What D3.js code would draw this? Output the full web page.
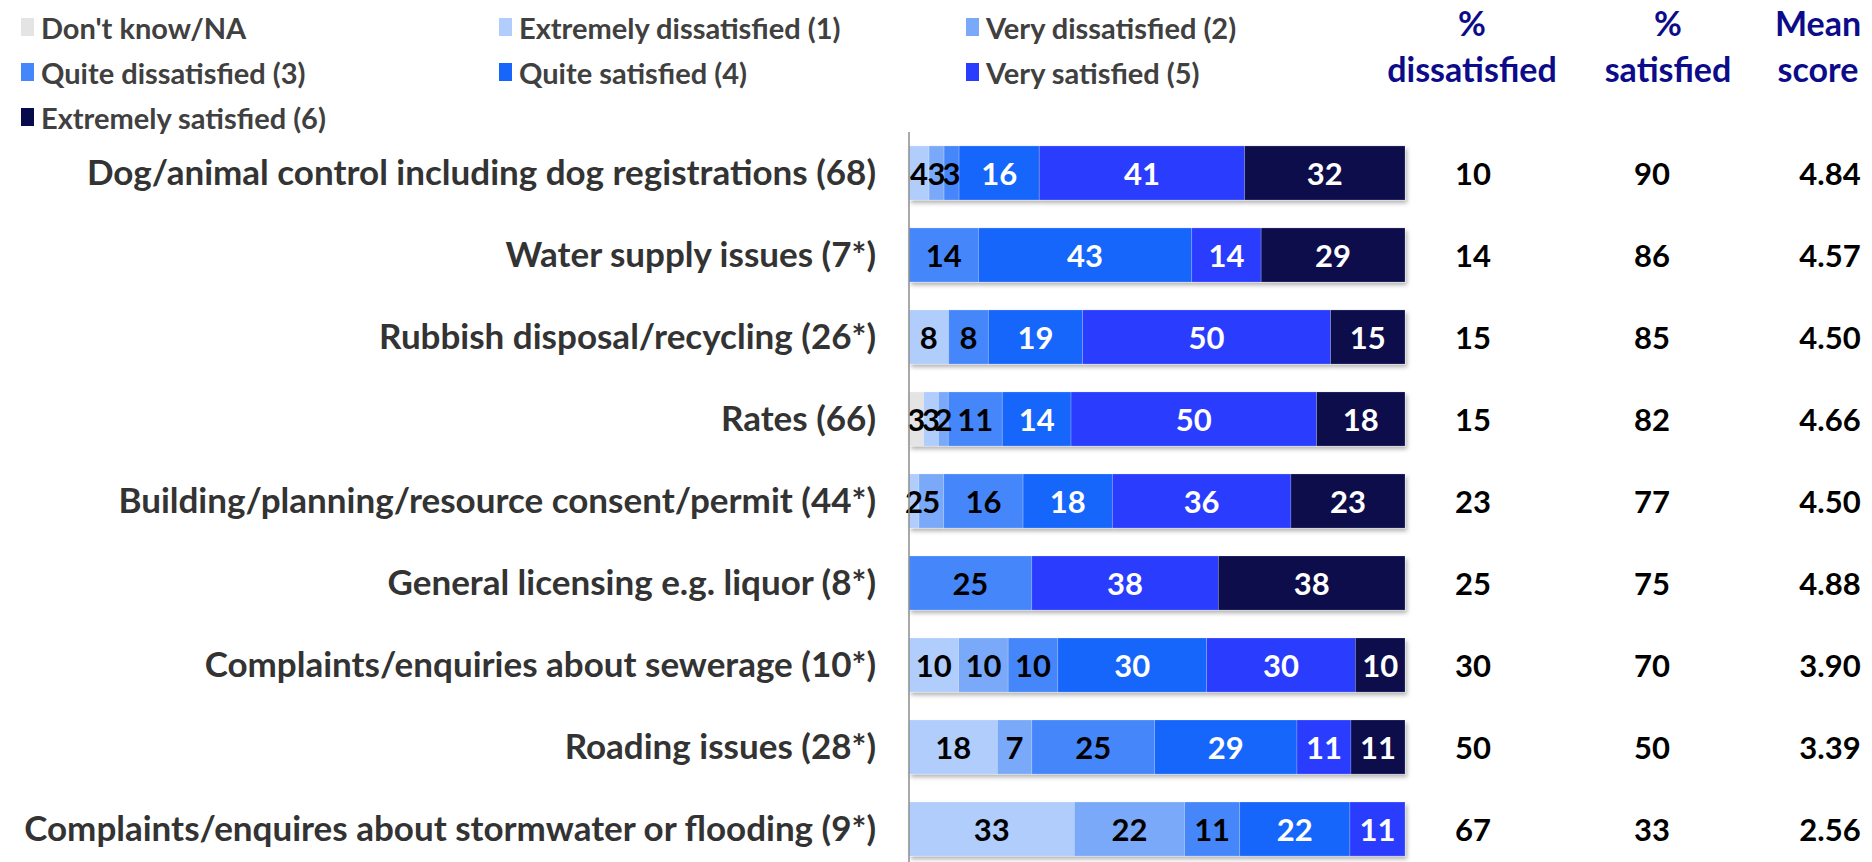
<!DOCTYPE html>
<html>
<head>
<meta charset="utf-8">
<script src="https://cdn.jsdelivr.net/npm/d3@7"></script>
<style>
  html, body { margin: 0; padding: 0; background: #ffffff; }
  svg { display: block; }
  text { font-family: Lato, "Open Sans", sans-serif; font-weight: 700; }
</style>
</head>
<body>
<svg id="chart" width="1872" height="862"></svg>
<script>
// Service areas (with base sizes)
const categories = [
  "Dog/animal control including dog registrations (68)",
  "Water supply issues (7*)",
  "Rubbish disposal/recycling (26*)",
  "Rates (66)",
  "Building/planning/resource consent/permit (44*)",
  "General licensing e.g. liquor (8*)",
  "Complaints/enquiries about sewerage (10*)",
  "Roading issues (28*)",
  "Complaints/enquires about stormwater or flooding (9*)"
];

// Rating scale, in stacking order
const seriesNames = [
  "Don't know/NA",
  "Extremely dissatisfied (1)",
  "Very dissatisfied (2)",
  "Quite dissatisfied (3)",
  "Quite satisfied (4)",
  "Very satisfied (5)",
  "Extremely satisfied (6)"
];

// Percentages per rating, one value per service area
const dontKnow   = [0, 0, 0, 3, 0, 0, 0, 0, 0];
const extDiss    = [4, 0, 8, 3, 2, 0, 10, 18, 33];
const veryDiss   = [3, 0, 0, 2, 5, 0, 10, 7, 22];
const quiteDiss  = [3, 14, 8, 11, 16, 25, 10, 25, 11];
const quiteSat   = [16, 43, 19, 14, 18, 0, 30, 29, 22];
const verySat    = [41, 14, 50, 50, 36, 38, 30, 11, 11];
const extSat     = [32, 29, 15, 18, 23, 38, 10, 11, 0];

// Summary columns
const pctDissatisfied = [10, 14, 15, 15, 23, 25, 30, 50, 67];
const pctSatisfied    = [90, 86, 85, 82, 77, 75, 70, 50, 33];
const meanScore       = ["4.84", "4.57", "4.50", "4.66", "4.50", "4.88", "3.90", "3.39", "2.56"];

const summaryHeaders = [["%", "dissatisfied"], ["%", "satisfied"], ["Mean", "score"]];

const seriesColors = ["#e4e4e4", "#b0cdfc", "#7aa9f9", "#4587fb", "#1766fc", "#2a3dfe", "#070b4c"];
const labelColors  = ["#000000", "#000000", "#000000", "#000000", "#ffffff", "#ffffff", "#ffffff"];

const seriesValues = [dontKnow, extDiss, veryDiss, quiteDiss, quiteSat, verySat, extSat];
const keys = seriesNames;
const rows = categories.map((c, i) => {
  const r = { category: c };
  keys.forEach((k, j) => { r[k] = seriesValues[j][i]; });
  return r;
});

const svg = d3.select("#chart");

// Soft drop shadow under each bar
const defs = svg.append("defs");
const f = defs.append("filter").attr("id", "shadow")
  .attr("x", "-5%").attr("y", "-20%").attr("width", "110%").attr("height", "150%");
f.append("feDropShadow").attr("dx", 2).attr("dy", 3).attr("stdDeviation", 2)
  .attr("flood-color", "#000").attr("flood-opacity", 0.3);

const x = d3.scaleLinear().domain([0, 1]).range([909, 1405]);
const y = d3.scaleBand().domain(categories).range([132, 870])
  .paddingInner(0.341).paddingOuter(0.17);

const stacked = d3.stack().keys(keys).offset(d3.stackOffsetExpand)(rows);

// Bars
const rowG = svg.append("g").selectAll("g.row")
  .data(categories).join("g").attr("class", "row")
  .attr("filter", "url(#shadow)");

rowG.each(function(cat, i) {
  const g = d3.select(this);
  stacked.forEach((s, j) => {
    const d = s[i];
    if (d[1] - d[0] <= 0) return;
    g.append("rect")
      .attr("x", x(d[0]))
      .attr("y", y(cat))
      .attr("width", x(d[1]) - x(d[0]))
      .attr("height", y.bandwidth())
      .attr("fill", seriesColors[j])
      .attr("stroke", "rgba(255,255,255,0.25)")
      .attr("stroke-width", 0.8);
  });
});

// Segment value labels
const labelG = svg.append("g");
categories.forEach((cat, i) => {
  stacked.forEach((s, j) => {
    const d = s[i];
    const v = seriesValues[j][i];
    if (!v) return;
    labelG.append("text")
      .attr("x", (x(d[0]) + x(d[1])) / 2)
      .attr("y", y(cat) + y.bandwidth() / 2)
      .attr("text-anchor", "middle")
      .attr("dominant-baseline", "central")
      .attr("font-size", 31)
      .attr("fill", labelColors[j])
      .text(v);
  });
});

// Vertical axis line
svg.append("line")
  .attr("x1", 909).attr("x2", 909)
  .attr("y1", 132).attr("y2", 862)
  .attr("stroke", "#8c8c8c").attr("stroke-width", 1.5);

// Category labels
const yAxis = d3.axisLeft(y).tickSize(0).tickPadding(0);
const axisG = svg.append("g").attr("transform", "translate(876,0)").call(yAxis);
axisG.select(".domain").remove();
axisG.selectAll("text")
  .attr("font-family", "Lato, 'Open Sans', sans-serif")
  .attr("font-weight", 700)
  .attr("font-size", 35)
  .attr("fill", "#333333")
  .attr("dy", "0.35em");

// Summary columns
const headerX = [1472, 1668, 1818];
const valueX  = [1473, 1652, 1830];
const columns = [pctDissatisfied, pctSatisfied, meanScore];
columns.forEach((vals, c) => {
  svg.append("g").selectAll("text")
    .data(vals).join("text")
    .attr("x", valueX[c])
    .attr("y", (d, i) => y(categories[i]) + y.bandwidth() / 2)
    .attr("text-anchor", "middle")
    .attr("dominant-baseline", "central")
    .attr("font-size", 31)
    .attr("fill", "#000")
    .text(d => d);

  const h = svg.append("text")
    .attr("text-anchor", "middle")
    .attr("font-size", 34)
    .attr("fill", "#0c0c8a");
  summaryHeaders[c].forEach((line, k) => {
    h.append("tspan").attr("x", headerX[c]).attr("y", 36 + k * 46).text(line);
  });
});

// Legend: three columns
const legendCols = [21, 499, 966];
const legendRows = [27, 72, 117];
const legend = svg.append("g").selectAll("g")
  .data(seriesNames).join("g")
  .attr("transform", (d, i) => `translate(${legendCols[i % 3]},${legendRows[Math.floor(i / 3)]})`);
legend.append("rect")
  .attr("x", 0).attr("y", -9).attr("width", 13).attr("height", 18)
  .attr("fill", (d, i) => seriesColors[i]);
legend.append("text")
  .attr("x", 20).attr("y", 0)
  .attr("dominant-baseline", "central")
  .attr("font-size", 29)
  .attr("fill", "#404040")
  .text(d => d);
</script>
</body>
</html>
